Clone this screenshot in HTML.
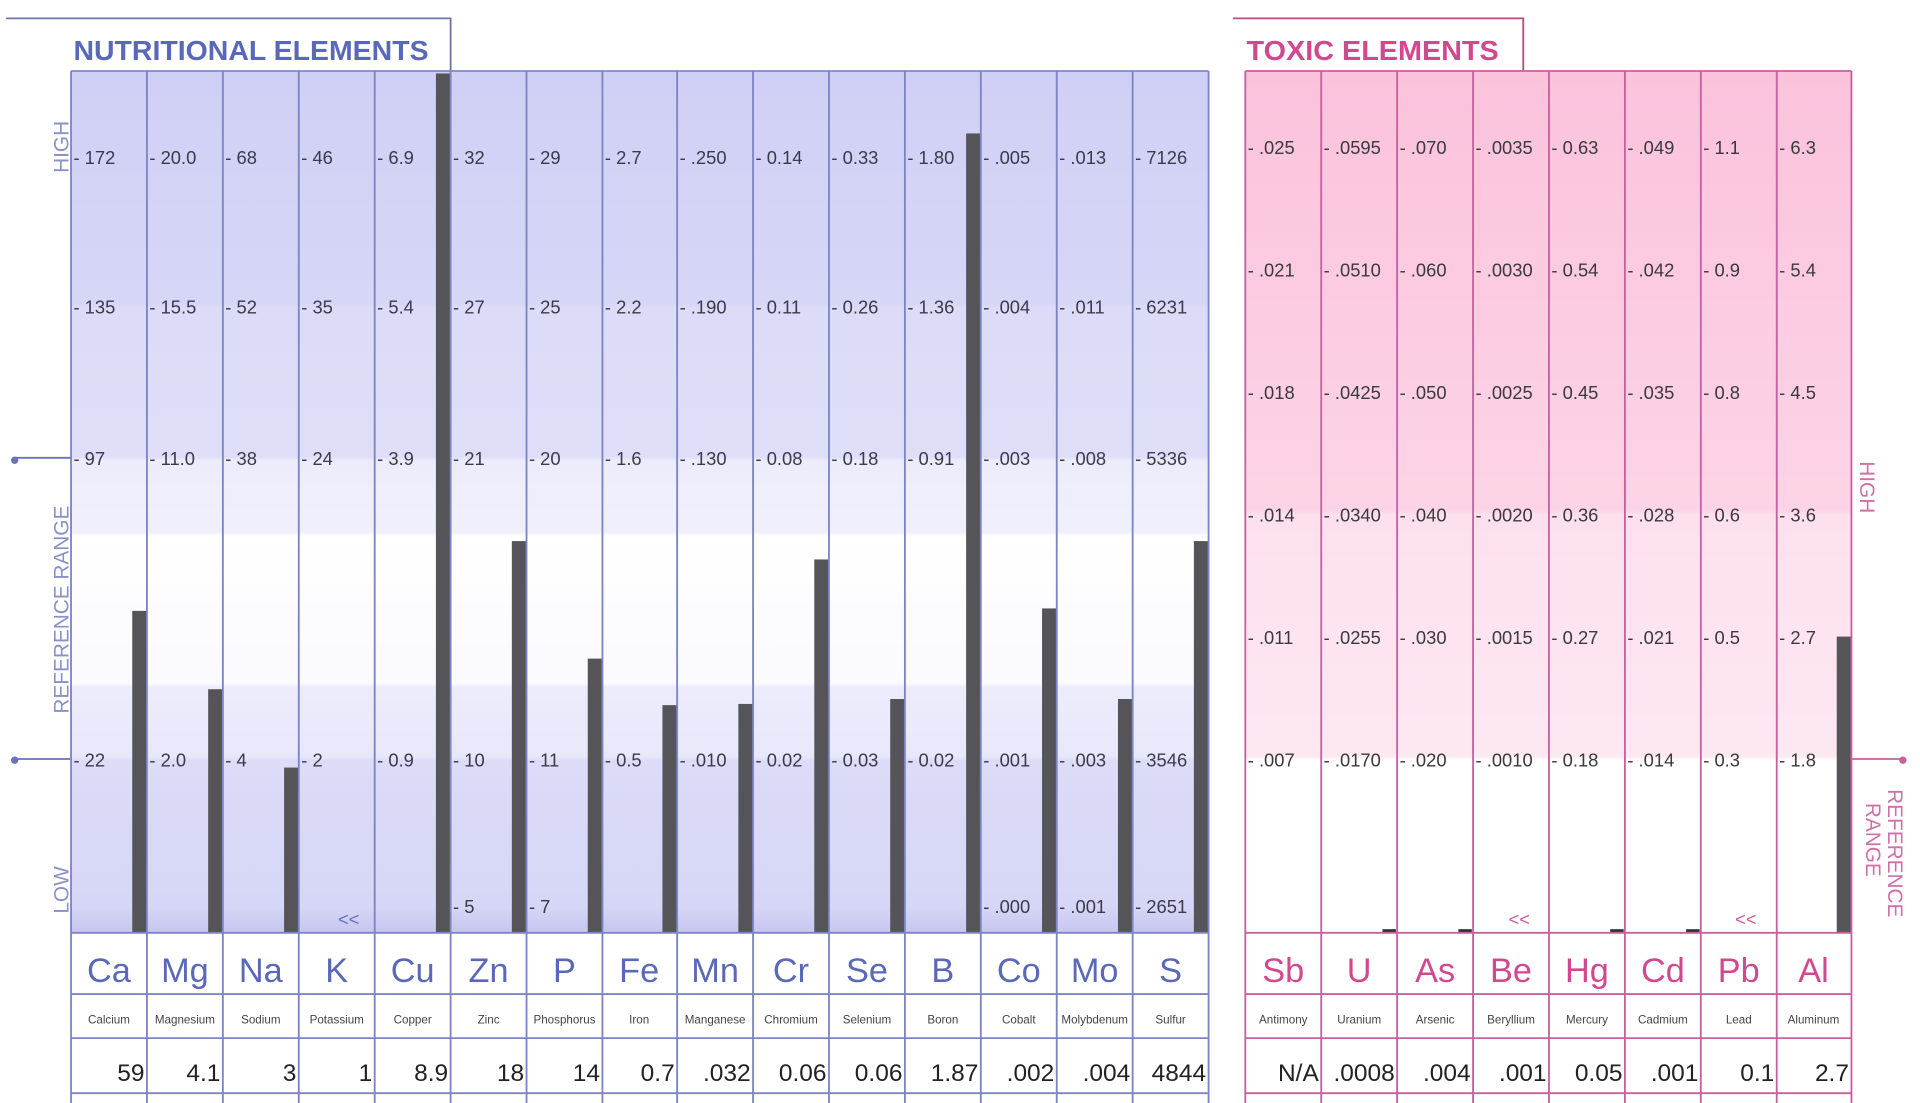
<!DOCTYPE html>
<html><head><meta charset="utf-8"><style>
html,body{margin:0;padding:0;background:#fff;}
svg{display:block;}
text{font-family:"Liberation Sans",Arial,sans-serif;}
.t{font-size:15px;fill:#3a3a4a;}
.tp{font-size:15px;fill:#3a3a3a;}
.sy{font-size:28px;fill:#5a68b8;text-anchor:middle;}
.syp{font-size:28px;fill:#d2488f;text-anchor:middle;}
.nm{font-size:9.5px;fill:#444;text-anchor:middle;}
.v{font-size:20px;fill:#222;text-anchor:end;}
</style></head><body>
<svg width="1920" height="1103" viewBox="0 0 1568 901" preserveAspectRatio="none" xmlns="http://www.w3.org/2000/svg">
<defs>
<linearGradient id="gb" x1="0" y1="58" x2="0" y2="762" gradientUnits="userSpaceOnUse">
<stop offset="0" stop-color="#d0d0f6"/>
<stop offset="0.27" stop-color="#d6d6f7"/>
<stop offset="0.275" stop-color="#dcdcf8"/>
<stop offset="0.448" stop-color="#dedef9"/>
<stop offset="0.452" stop-color="#ececfc"/>
<stop offset="0.535" stop-color="#f0f0fd"/>
<stop offset="0.54" stop-color="#ffffff"/>
<stop offset="0.71" stop-color="#fafaff"/>
<stop offset="0.715" stop-color="#ececfc"/>
<stop offset="0.795" stop-color="#e8e8fb"/>
<stop offset="0.8" stop-color="#dcdcf8"/>
<stop offset="0.97" stop-color="#d6d6f6"/>
<stop offset="1" stop-color="#c6c6f0"/>
</linearGradient>
<linearGradient id="gp" x1="0" y1="58" x2="0" y2="762" gradientUnits="userSpaceOnUse">
<stop offset="0" stop-color="#fbc2dc"/>
<stop offset="0.51" stop-color="#fdd4e7"/>
<stop offset="0.515" stop-color="#fde0ee"/>
<stop offset="0.795" stop-color="#fde8f2"/>
<stop offset="0.8" stop-color="#ffffff"/>
<stop offset="1" stop-color="#ffffff"/>
</linearGradient>
</defs>

<!-- Nutritional title -->
<polyline points="5,15 368,15 368,58" fill="none" stroke="#7076a8" stroke-width="1.5"/>
<text x="60" y="49" font-size="23" font-weight="bold" fill="#5a68b8" textLength="290" lengthAdjust="spacingAndGlyphs">NUTRITIONAL ELEMENTS</text>

<rect x="58" y="58" width="929" height="704" fill="url(#gb)"/>
<line x1="58" y1="58" x2="987" y2="58" stroke="#8088c8" stroke-width="1.5"/>

<!-- left axis -->
<line x1="12" y1="374" x2="58" y2="374" stroke="#6a72b8" stroke-width="1.5"/><circle cx="12" cy="376" r="3" fill="#6a72b8"/>
<line x1="12" y1="620" x2="58" y2="620" stroke="#6a72b8" stroke-width="1.5"/><circle cx="12" cy="621" r="3" fill="#6a72b8"/>
<text transform="translate(56,120) rotate(-90)" font-size="17" fill="#8a90c8" text-anchor="middle">HIGH</text>
<text transform="translate(56,498) rotate(-90)" font-size="17" fill="#8a90c8" text-anchor="middle">REFERENCE  RANGE</text>
<text transform="translate(56,727) rotate(-90)" font-size="17" fill="#8a90c8" text-anchor="middle">LOW</text>

<!-- bars nutritional -->
<g fill="#555559">
<rect x="108" y="499" width="12" height="263"/>
<rect x="170" y="563" width="12" height="199"/>
<rect x="232" y="627" width="12" height="135"/>
<rect x="356" y="60" width="12" height="702"/>
<rect x="418" y="442" width="12" height="320"/>
<rect x="480" y="538" width="12" height="224"/>
<rect x="541" y="576" width="12" height="186"/>
<rect x="603" y="575" width="12" height="187"/>
<rect x="665" y="457" width="12" height="305"/>
<rect x="727" y="571" width="12" height="191"/>
<rect x="789" y="109" width="12" height="653"/>
<rect x="851" y="497" width="12" height="265"/>
<rect x="913" y="571" width="12" height="191"/>
<rect x="975" y="442" width="12" height="320"/>
</g>
<text x="276" y="756" font-size="15" fill="#6a72b8">&lt;&lt;</text>

<!-- vertical column lines nutritional -->
<g stroke="#7c84c6" stroke-width="1.5">
<line x1="58" y1="58" x2="58" y2="901"/><line x1="120" y1="58" x2="120" y2="901"/><line x1="182" y1="58" x2="182" y2="901"/><line x1="244" y1="58" x2="244" y2="901"/><line x1="306" y1="58" x2="306" y2="901"/><line x1="368" y1="58" x2="368" y2="901"/><line x1="430" y1="58" x2="430" y2="901"/><line x1="492" y1="58" x2="492" y2="901"/><line x1="553" y1="58" x2="553" y2="901"/><line x1="615" y1="58" x2="615" y2="901"/><line x1="677" y1="58" x2="677" y2="901"/><line x1="739" y1="58" x2="739" y2="901"/><line x1="801" y1="58" x2="801" y2="901"/><line x1="863" y1="58" x2="863" y2="901"/><line x1="925" y1="58" x2="925" y2="901"/><line x1="987" y1="58" x2="987" y2="901"/>
<line x1="58" y1="762" x2="987" y2="762"/><line x1="58" y1="812" x2="987" y2="812"/><line x1="58" y1="848" x2="987" y2="848"/><line x1="58" y1="893" x2="987" y2="893"/>
</g>

<!-- ticks nutritional -->
<g class="t">
<text x="60" y="134">- 172</text><text x="122" y="134">- 20.0</text><text x="184" y="134">- 68</text><text x="246" y="134">- 46</text><text x="308" y="134">- 6.9</text><text x="370" y="134">- 32</text><text x="432" y="134">- 29</text><text x="494" y="134">- 2.7</text><text x="555" y="134">- .250</text><text x="617" y="134">- 0.14</text><text x="679" y="134">- 0.33</text><text x="741" y="134">- 1.80</text><text x="803" y="134">- .005</text><text x="865" y="134">- .013</text><text x="927" y="134">- 7126</text>
<text x="60" y="256">- 135</text><text x="122" y="256">- 15.5</text><text x="184" y="256">- 52</text><text x="246" y="256">- 35</text><text x="308" y="256">- 5.4</text><text x="370" y="256">- 27</text><text x="432" y="256">- 25</text><text x="494" y="256">- 2.2</text><text x="555" y="256">- .190</text><text x="617" y="256">- 0.11</text><text x="679" y="256">- 0.26</text><text x="741" y="256">- 1.36</text><text x="803" y="256">- .004</text><text x="865" y="256">- .011</text><text x="927" y="256">- 6231</text>
<text x="60" y="380">- 97</text><text x="122" y="380">- 11.0</text><text x="184" y="380">- 38</text><text x="246" y="380">- 24</text><text x="308" y="380">- 3.9</text><text x="370" y="380">- 21</text><text x="432" y="380">- 20</text><text x="494" y="380">- 1.6</text><text x="555" y="380">- .130</text><text x="617" y="380">- 0.08</text><text x="679" y="380">- 0.18</text><text x="741" y="380">- 0.91</text><text x="803" y="380">- .003</text><text x="865" y="380">- .008</text><text x="927" y="380">- 5336</text>
<text x="60" y="626">- 22</text><text x="122" y="626">- 2.0</text><text x="184" y="626">- 4</text><text x="246" y="626">- 2</text><text x="308" y="626">- 0.9</text><text x="370" y="626">- 10</text><text x="432" y="626">- 11</text><text x="494" y="626">- 0.5</text><text x="555" y="626">- .010</text><text x="617" y="626">- 0.02</text><text x="679" y="626">- 0.03</text><text x="741" y="626">- 0.02</text><text x="803" y="626">- .001</text><text x="865" y="626">- .003</text><text x="927" y="626">- 3546</text>
<text x="370" y="746">- 5</text><text x="432" y="746">- 7</text><text x="803" y="746">- .000</text><text x="865" y="746">- .001</text><text x="927" y="746">- 2651</text>
</g>

<!-- symbols -->
<g class="sy">
<text x="89" y="802">Ca</text><text x="151" y="802">Mg</text><text x="213" y="802">Na</text><text x="275" y="802">K</text><text x="337" y="802">Cu</text><text x="399" y="802">Zn</text><text x="461" y="802">P</text><text x="522" y="802">Fe</text><text x="584" y="802">Mn</text><text x="646" y="802">Cr</text><text x="708" y="802">Se</text><text x="770" y="802">B</text><text x="832" y="802">Co</text><text x="894" y="802">Mo</text><text x="956" y="802">S</text>
</g>
<g class="nm">
<text x="89" y="836">Calcium</text><text x="151" y="836">Magnesium</text><text x="213" y="836">Sodium</text><text x="275" y="836">Potassium</text><text x="337" y="836">Copper</text><text x="399" y="836">Zinc</text><text x="461" y="836">Phosphorus</text><text x="522" y="836">Iron</text><text x="584" y="836">Manganese</text><text x="646" y="836">Chromium</text><text x="708" y="836">Selenium</text><text x="770" y="836">Boron</text><text x="832" y="836">Cobalt</text><text x="894" y="836">Molybdenum</text><text x="956" y="836">Sulfur</text>
</g>
<g class="v">
<text x="118" y="883">59</text><text x="180" y="883">4.1</text><text x="242" y="883">3</text><text x="304" y="883">1</text><text x="366" y="883">8.9</text><text x="428" y="883">18</text><text x="490" y="883">14</text><text x="551" y="883">0.7</text><text x="613" y="883">.032</text><text x="675" y="883">0.06</text><text x="737" y="883">0.06</text><text x="799" y="883">1.87</text><text x="861" y="883">.002</text><text x="923" y="883">.004</text><text x="985" y="883">4844</text>
</g>

<!-- Toxic title -->
<polyline points="1007,15 1244,15 1244,58" fill="none" stroke="#b0507e" stroke-width="1.5"/>
<text x="1018" y="49" font-size="23" font-weight="bold" fill="#d2488f" textLength="206" lengthAdjust="spacingAndGlyphs">TOXIC ELEMENTS</text>

<rect x="1017" y="58" width="495" height="704" fill="url(#gp)"/>

<rect x="1500" y="520" width="12" height="242" fill="#555559"/>
<g fill="#333"><rect x="1129" y="759" width="11" height="3"/><rect x="1191" y="759" width="11" height="3"/><rect x="1315" y="759" width="11" height="3"/><rect x="1377" y="759" width="11" height="3"/></g>
<text x="1232" y="756" font-size="15" fill="#c8609c">&lt;&lt;</text>
<text x="1417" y="756" font-size="15" fill="#c8609c">&lt;&lt;</text>

<g stroke="#c8609c" stroke-width="1.5">
<line x1="1017" y1="58" x2="1512" y2="58"/>
<line x1="1017" y1="58" x2="1017" y2="901"/><line x1="1079" y1="58" x2="1079" y2="901"/><line x1="1141" y1="58" x2="1141" y2="901"/><line x1="1203" y1="58" x2="1203" y2="901"/><line x1="1265" y1="58" x2="1265" y2="901"/><line x1="1327" y1="58" x2="1327" y2="901"/><line x1="1389" y1="58" x2="1389" y2="901"/><line x1="1451" y1="58" x2="1451" y2="901"/><line x1="1512" y1="58" x2="1512" y2="901"/>
<line x1="1017" y1="762" x2="1512" y2="762"/><line x1="1017" y1="812" x2="1512" y2="812"/><line x1="1017" y1="848" x2="1512" y2="848"/><line x1="1017" y1="893" x2="1512" y2="893"/>
<line x1="1512" y1="620" x2="1554" y2="620"/>
</g>
<circle cx="1554" cy="621" r="3" fill="#c8609c"/>
<text transform="translate(1519,398) rotate(90)" font-size="17" fill="#d070a8" text-anchor="middle">HIGH</text>
<text transform="translate(1542,697) rotate(90)" font-size="17" fill="#d070a8" text-anchor="middle">REFERENCE</text>
<text transform="translate(1524,686) rotate(90)" font-size="17" fill="#d070a8" text-anchor="middle">RANGE</text>

<g class="tp">
<text x="1019" y="126">- .025</text><text x="1081" y="126">- .0595</text><text x="1143" y="126">- .070</text><text x="1205" y="126">- .0035</text><text x="1267" y="126">- 0.63</text><text x="1329" y="126">- .049</text><text x="1391" y="126">- 1.1</text><text x="1453" y="126">- 6.3</text>
<text x="1019" y="226">- .021</text><text x="1081" y="226">- .0510</text><text x="1143" y="226">- .060</text><text x="1205" y="226">- .0030</text><text x="1267" y="226">- 0.54</text><text x="1329" y="226">- .042</text><text x="1391" y="226">- 0.9</text><text x="1453" y="226">- 5.4</text>
<text x="1019" y="326">- .018</text><text x="1081" y="326">- .0425</text><text x="1143" y="326">- .050</text><text x="1205" y="326">- .0025</text><text x="1267" y="326">- 0.45</text><text x="1329" y="326">- .035</text><text x="1391" y="326">- 0.8</text><text x="1453" y="326">- 4.5</text>
<text x="1019" y="426">- .014</text><text x="1081" y="426">- .0340</text><text x="1143" y="426">- .040</text><text x="1205" y="426">- .0020</text><text x="1267" y="426">- 0.36</text><text x="1329" y="426">- .028</text><text x="1391" y="426">- 0.6</text><text x="1453" y="426">- 3.6</text>
<text x="1019" y="526">- .011</text><text x="1081" y="526">- .0255</text><text x="1143" y="526">- .030</text><text x="1205" y="526">- .0015</text><text x="1267" y="526">- 0.27</text><text x="1329" y="526">- .021</text><text x="1391" y="526">- 0.5</text><text x="1453" y="526">- 2.7</text>
<text x="1019" y="626">- .007</text><text x="1081" y="626">- .0170</text><text x="1143" y="626">- .020</text><text x="1205" y="626">- .0010</text><text x="1267" y="626">- 0.18</text><text x="1329" y="626">- .014</text><text x="1391" y="626">- 0.3</text><text x="1453" y="626">- 1.8</text>
</g>
<g class="syp">
<text x="1048" y="802">Sb</text><text x="1110" y="802">U</text><text x="1172" y="802">As</text><text x="1234" y="802">Be</text><text x="1296" y="802">Hg</text><text x="1358" y="802">Cd</text><text x="1420" y="802">Pb</text><text x="1481" y="802">Al</text>
</g>
<g class="nm">
<text x="1048" y="836">Antimony</text><text x="1110" y="836">Uranium</text><text x="1172" y="836">Arsenic</text><text x="1234" y="836">Beryllium</text><text x="1296" y="836">Mercury</text><text x="1358" y="836">Cadmium</text><text x="1420" y="836">Lead</text><text x="1481" y="836">Aluminum</text>
</g>
<g class="v">
<text x="1077" y="883">N/A</text><text x="1139" y="883">.0008</text><text x="1201" y="883">.004</text><text x="1263" y="883">.001</text><text x="1325" y="883">0.05</text><text x="1387" y="883">.001</text><text x="1449" y="883">0.1</text><text x="1510" y="883">2.7</text>
</g>
</svg>
</body></html>
